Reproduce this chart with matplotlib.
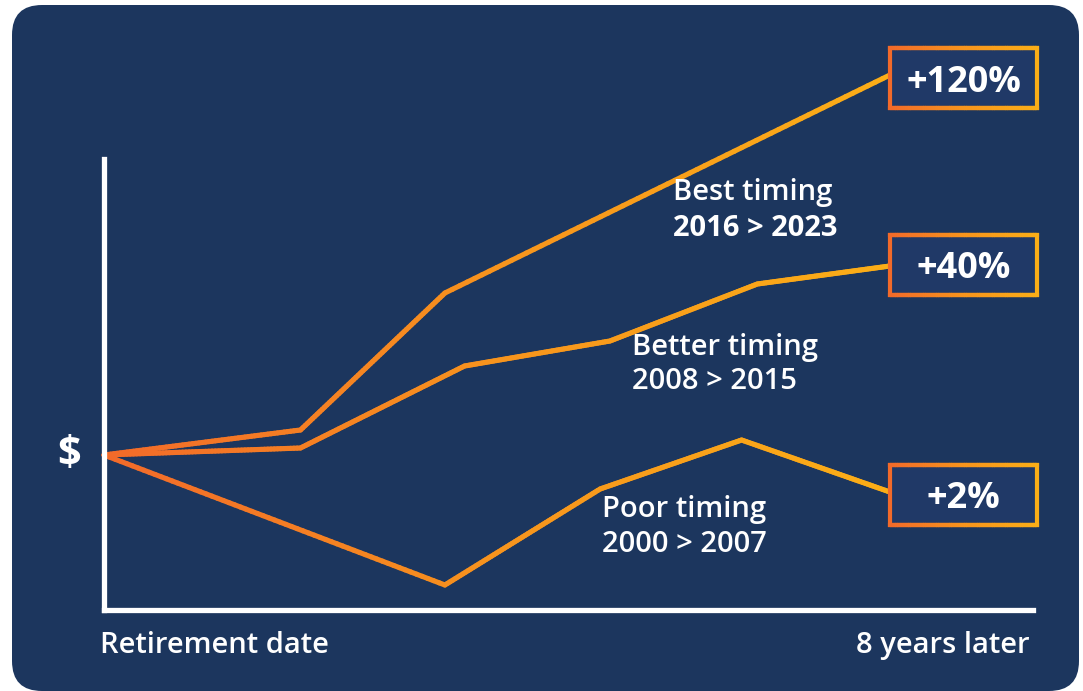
import numpy as np
import matplotlib
matplotlib.use("Agg")
import matplotlib.pyplot as plt
from matplotlib.collections import LineCollection
from matplotlib.colors import LinearSegmentedColormap
from matplotlib.patches import FancyBboxPatch, Rectangle

plt.rcParams['font.family'] = ['Open Sans', 'DejaVu Sans']

# schematic values: years since retirement, portfolio index (start = 100)
best_x = [0, 2.0, 3.47, 8]
best_y = [100, 112.5, 181, 290]
better_x = [0, 2.0, 3.67, 5.15, 6.65, 8]
better_y = [100, 103.5, 144.5, 157, 185.5, 194.5]
poor_x = [0, 3.47, 5.05, 6.49, 8]
poor_y = [100, 35, 83, 107.5, 81.5]

end_labels = ["+120%", "+40%", "+2%"]
names = ["Best timing", "Better timing", "Poor timing"]
periods = ["2016 > 2023", "2008 > 2015", "2000 > 2007"]

NAVY = '#1c365e'
BOX = '#203967'
ORANGE = '#f26a2a'
YELLOW = '#fbae17'
cmap = LinearSegmentedColormap.from_list('o', [ORANGE, '#f7941d', YELLOW])

fig = plt.figure(figsize=(10.83, 6.91), dpi=100, facecolor='white')

# panel background
bg = fig.add_axes([0, 0, 1, 1])
bg.set_xlim(0, 1083)
bg.set_ylim(691, 0)
bg.axis('off')
bg.add_patch(FancyBboxPatch((12, 5), 1067, 686, boxstyle="round,pad=0,rounding_size=30",
                            facecolor=NAVY, edgecolor='none'))

ax = fig.add_axes([104 / 1083, 81 / 691, 929 / 1083, 451 / 691])
ax.set_facecolor('none')
ax.set_xlim(0, 8 / 0.846)
ax.set_ylim(22.5, 248)
for s in ['top', 'right']:
    ax.spines[s].set_visible(False)
for s in ['left', 'bottom']:
    ax.spines[s].set_color('white')
    ax.spines[s].set_linewidth(3.8)
ax.set_xticks([])
ax.set_yticks([])


def gradient_line(xs, ys, lw=3.7):
    xx = []
    yy = []
    for i in range(len(xs) - 1):
        t = np.linspace(0, 1, 60, endpoint=False)
        xx.extend(xs[i] + (xs[i + 1] - xs[i]) * t)
        yy.extend(ys[i] + (ys[i + 1] - ys[i]) * t)
    xx.append(xs[-1])
    yy.append(ys[-1])
    pts = np.column_stack([xx, yy])
    segs = np.stack([pts[:-1], pts[1:]], axis=1)
    lc = LineCollection(segs, colors=cmap(np.array(xx[:-1]) / 8.0), linewidth=lw,
                        capstyle='round', joinstyle='round', clip_on=False)
    ax.add_collection(lc)


bw, bh = 1.5, 30


def gradient_box(x0, yc, text):
    y0 = yc - bh / 2
    ax.add_patch(Rectangle((x0, y0), bw, bh, facecolor=BOX, edgecolor='none',
                           clip_on=False, zorder=3))
    t = np.linspace(0, 1, 80)
    xs = x0 + bw * t
    segs = []
    cols = []
    for yy in (y0, y0 + bh):
        for i in range(len(t) - 1):
            segs.append([(xs[i], yy), (xs[i + 1], yy)])
            cols.append(cmap(t[i]))
    segs.append([(x0, y0), (x0, y0 + bh)])
    cols.append(cmap(0.0))
    segs.append([(x0 + bw, y0), (x0 + bw, y0 + bh)])
    cols.append(cmap(1.0))
    ax.add_collection(LineCollection(segs, colors=cols, linewidth=3.0, capstyle='projecting',
                                     clip_on=False, zorder=4))
    ax.text(x0 + bw / 2, yc, text, color='white', fontsize=26, fontweight='bold',
            ha='center', va='center_baseline', zorder=5)


gradient_line(best_x, best_y)
gradient_line(better_x, better_y)
gradient_line(poor_x, poor_y)

gradient_box(best_x[-1], best_y[-1] - 1.5, end_labels[0])
gradient_box(better_x[-1], better_y[-1] + 0.5, end_labels[1])
gradient_box(poor_x[-1], poor_y[-1] - 1.5, end_labels[2])

# line labels
fs = 21
w = 'semibold'
ax.text(5.79, 227.5, names[0], color='white', fontsize=fs, fontweight=w, va='baseline')
ax.text(5.79, 209.5, periods[0], color='white', fontsize=fs, fontweight='bold', va='baseline')
ax.text(5.37, 150, names[1], color='white', fontsize=fs, fontweight=w, va='baseline')
ax.text(5.37, 133, periods[1], color='white', fontsize=fs, fontweight=w, va='baseline')
ax.text(5.07, 69, names[2], color='white', fontsize=fs, fontweight=w, va='baseline')
ax.text(5.07, 51.5, periods[2], color='white', fontsize=fs, fontweight=w, va='baseline')

ax.text(-0.36, 100, "$", color='white', fontsize=30, fontweight='bold', ha='center', va='center')
ax.text(-0.0043, -0.095, "Retirement date", color='white', fontsize=fs, fontweight=w,
        transform=ax.transAxes, ha='left', va='baseline')
ax.text(0.9968, -0.095, "8 years later", color='white', fontsize=fs, fontweight=w,
        transform=ax.transAxes, ha='right', va='baseline')

fig.savefig('out.png', dpi=100, facecolor='white')
